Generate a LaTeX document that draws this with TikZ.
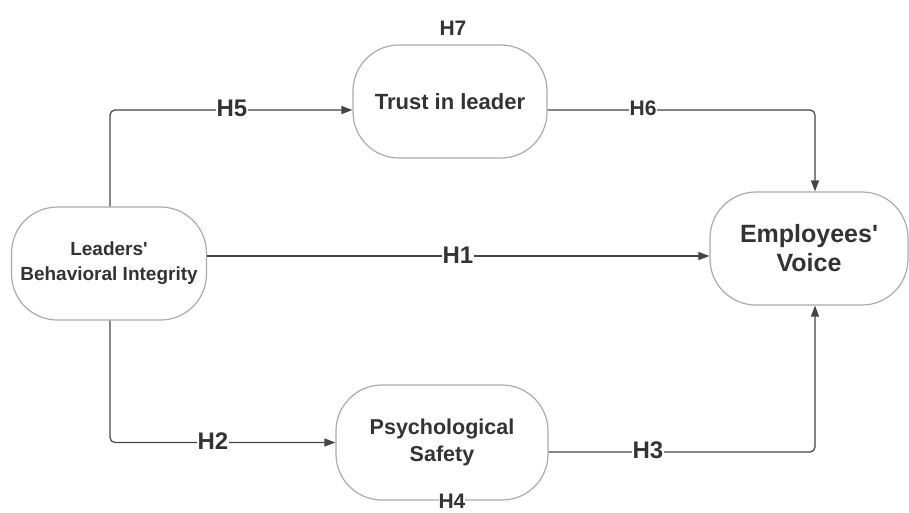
\documentclass[tikz,border=0pt]{standalone}
\usepackage{fontspec}
\setmainfont{Liberation Sans}
\usetikzlibrary{arrows.meta,positioning,calc}
\definecolor{txt}{HTML}{333333}
\definecolor{lne}{HTML}{444444}
\definecolor{brd}{HTML}{ABABAB}
\tikzset{
  construct/.style={draw=brd, line width=1.2pt, rounded corners=46pt, align=center,
    text=txt, font=\bfseries, inner sep=0pt, fill=white},
  conn/.style={draw=lne, line width=1.2pt, rounded corners=5pt,
    -{Triangle[length=11pt,width=8pt]}},
  hlab/.style={fill=white, inner sep=1pt, text=txt, font=\bfseries\fontsize{24}{26}\selectfont}
}
\begin{document}
\begin{tikzpicture}[x=1pt,y=-1pt]
\useasboundingbox (0,0) rectangle (909,512);
\node[construct, minimum width=195pt, minimum height=113pt,
  font=\bfseries\fontsize{19}{25}\selectfont] (L) at (109,263.5) {Leaders\textquotesingle\\Behavioral Integrity};
\node[construct, minimum width=194pt, minimum height=113pt,
  font=\bfseries\fontsize{22}{26}\selectfont] (T) at (450,101.5) {Trust in leader};
\node[construct, minimum width=198pt, minimum height=113pt,
  font=\bfseries\fontsize{25}{29}\selectfont] (E) at (809,248.5) {Employees\textquotesingle\\Voice};
\node[construct, minimum width=212pt, minimum height=115pt,
  font=\bfseries\fontsize{21.5}{27}\selectfont] (P) at (442,442.5) {Psychological\\Safety};

% connectors
\draw[conn] ([xshift=1pt]L.north) |- ([yshift=-8.5pt]T.west);
\draw[conn] ([yshift=-8.5pt]T.east) -| ([xshift=6pt]E.north);
\draw[conn] ([yshift=7.5pt]L.east) -- ([yshift=-7.5pt]E.west);
\draw[conn] ([xshift=1pt]L.south) |- (P.west);
\draw[conn] ([yshift=-9.5pt]P.east) -| ([xshift=6pt]E.south);

% labels
\node[hlab] (h5) at (232,108) {H5};
\node[hlab, font=\bfseries\fontsize{21}{24}\selectfont] (h6) at (643,108) {H6};
\node[hlab] (h1) at (458,255) {H1};
\node[hlab] (h2) at (213,441) {H2};
\node[hlab] (h3) at (648,450) {H3};
\node[hlab, font=\bfseries\fontsize{21}{24}\selectfont] (h7) at (453,28) {H7};
\node[hlab, font=\bfseries\fontsize{21}{24}\selectfont, inner sep=0pt] (h4) at (452,501) {H4};
\end{tikzpicture}
\end{document}
